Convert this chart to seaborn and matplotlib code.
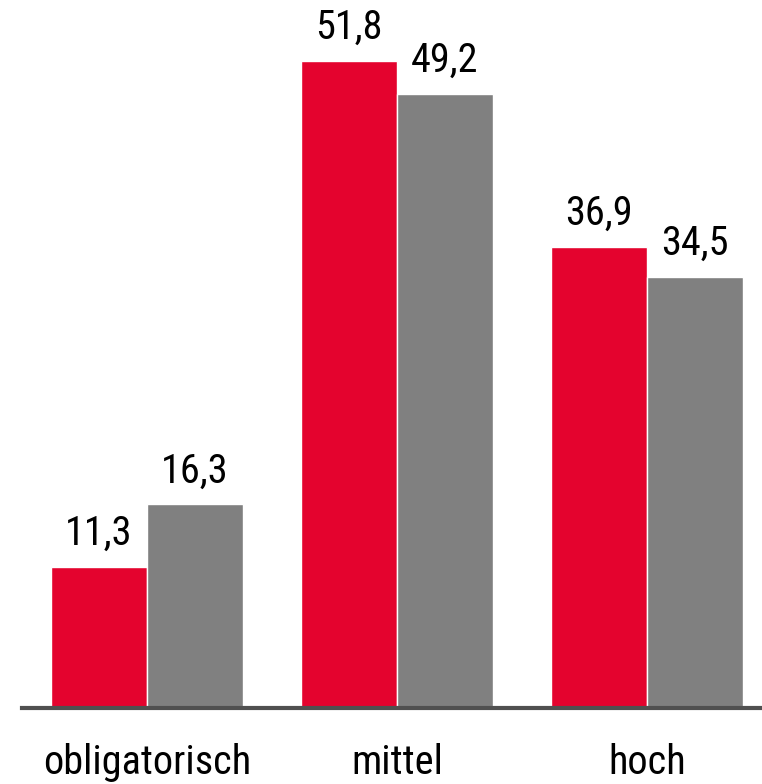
import pandas as pd
import seaborn as sns
import matplotlib.pyplot as plt
from matplotlib import font_manager

categories = ["obligatorisch", "mittel", "hoch"]
series = ["A", "B"]
values_a = [11.3, 51.8, 36.9]
values_b = [16.3, 49.2, 34.5]

df = pd.DataFrame({
    "kategorie": categories * 2,
    "serie": [series[0]] * 3 + [series[1]] * 3,
    "wert": values_a + values_b,
})

# narrow fonts, best first, with a size that fits the reference widths
wanted = [("Liberation Sans Narrow", 30), ("Arial Narrow", 30), ("Nimbus Sans Narrow", 30),
          ("Roboto Condensed", 29), ("Archivo Narrow", 29), ("PT Sans Narrow", 30),
          ("DejaVu Sans", 25)]
have = {f.name for f in font_manager.fontManager.ttflist}
family, fsize = next((n, s) for n, s in wanted if n in have)

sns.set_style("white")
plt.rcParams['font.family'] = [family, 'DejaVu Sans']
if family == "DejaVu Sans":
    plt.rcParams['font.stretch'] = 'condensed'

fig = plt.figure(figsize=(7.62, 7.84), dpi=100)
ax = fig.add_axes([22 / 762, 76 / 784, 740 / 762, 699.4 / 784])

sns.barplot(
    data=df, x="kategorie", y="wert", hue="serie",
    palette=["#E4032E", "#808080"], width=0.768,
    saturation=1, errorbar=None, legend=False, ax=ax,
)

for cont, vals in zip(ax.containers, [values_a, values_b]):
    ax.bar_label(cont, labels=[f"{v:.1f}".replace(".", ",") for v in vals],
                 padding=10, color="black", fontsize=fsize)

ax.set_xlim(-0.5, 2.46)
ax.set_ylim(0, 56)
ax.set_xlabel("")
ax.set_ylabel("")
ax.set_yticks([])
ax.tick_params(axis="x", length=0, pad=25, colors="black", labelsize=fsize)
for s in ["top", "right", "left"]:
    ax.spines[s].set_visible(False)
ax.spines["bottom"].set_color("#505050")
ax.spines["bottom"].set_linewidth(3)

fig.savefig("out.png", dpi=100)
